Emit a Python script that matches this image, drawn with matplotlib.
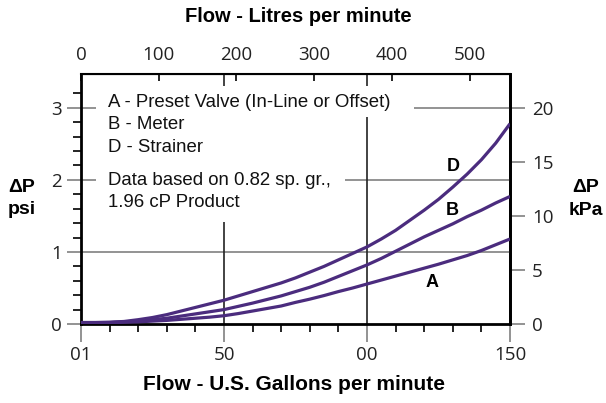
import matplotlib.pyplot as plt
from matplotlib.patches import Rectangle

# flow in US gallons per minute and pressure drop in psi
gpm = [0, 5, 10, 15, 20, 25, 30, 35, 40, 45, 50, 55, 60, 65, 70, 75,
       80, 85, 90, 95, 100, 105, 110, 115, 120, 125, 130, 135, 140, 145, 150]
dp_d = [0.02, 0.02, 0.025, 0.035, 0.06, 0.09, 0.13, 0.18, 0.23, 0.28, 0.33, 0.39, 0.45, 0.51, 0.57, 0.64,
        0.72, 0.80, 0.89, 0.98, 1.07, 1.18, 1.30, 1.44, 1.58, 1.73, 1.90, 2.08, 2.28, 2.51, 2.78]
dp_b = [0.02, 0.02, 0.02, 0.03, 0.04, 0.06, 0.08, 0.11, 0.14, 0.17, 0.20, 0.245, 0.29, 0.34, 0.39, 0.45,
        0.51, 0.58, 0.66, 0.74, 0.82, 0.91, 1.01, 1.11, 1.21, 1.30, 1.39, 1.49, 1.58, 1.68, 1.77]
dp_a = [0.02, 0.02, 0.02, 0.025, 0.03, 0.04, 0.05, 0.065, 0.08, 0.095, 0.115, 0.145, 0.18, 0.215, 0.25, 0.30,
        0.345, 0.395, 0.45, 0.50, 0.555, 0.61, 0.665, 0.72, 0.775, 0.83, 0.89, 0.95, 1.02, 1.10, 1.18]

bottom_ticks = [0, 50, 100, 150]
bottom_labels = ['01', '50', '00', '150']
litre_ticks = [0, 100, 200, 300, 400, 500]
kpa_ticks = [0, 5, 10, 15, 20]
notes = ['A - Preset Valve (In-Line or Offset)', 'B - Meter', 'D - Strainer',
         'Data based on 0.82 sp. gr.,', '1.96 cP Product']

purple = '#4b2c7e'
tick_font = 'Open Sans'
sans = 'Liberation Sans'

fig = plt.figure(figsize=(6.06, 4.03), dpi=100)
ax = fig.add_axes([81 / 606, 1 - 324 / 403, 429 / 606, 250 / 403])
ax.set_xlim(0, 150)
ax.set_ylim(0, 3.47)

# grid lines (hidden behind the note boxes)
for v in [1, 2, 3]:
    ax.axhline(v, color='#808080', lw=1.2, zorder=1)
for v in [50, 100]:
    ax.axvline(v, color='#222222', lw=1.2, zorder=1)
ax.add_patch(Rectangle((5.2, 2.875), 111.2, 0.43, facecolor='white', edgecolor='none', zorder=2))
ax.add_patch(Rectangle((5.2, 1.417), 87.1, 1.46, facecolor='white', edgecolor='none', zorder=2))

ax.plot(gpm, dp_d, color=purple, lw=2.3, zorder=3, solid_capstyle='butt')
ax.plot(gpm, dp_b, color=purple, lw=2.3, zorder=3, solid_capstyle='butt')
ax.plot(gpm, dp_a, color=purple, lw=2.3, zorder=3, solid_capstyle='butt')

ax.text(130.1, 2.19, 'D', fontsize=13, fontweight='bold', family=sans, ha='center', va='center')
ax.text(129.7, 1.57, 'B', fontsize=13, fontweight='bold', family=sans, ha='center', va='center')
ax.text(122.7, 0.57, 'A', fontsize=13, fontweight='bold', family=sans, ha='center', va='center')

note_y = [3.07, 2.764, 2.444, 1.986, 1.681]
for t, y in zip(notes, note_y):
    ax.text(9.44, y, t, fontsize=13.4, family=sans, ha='left', va='center', color='#111111', zorder=4)

for side in ['left', 'bottom', 'right']:
    ax.spines[side].set_linewidth(2)
ax.spines['top'].set_linewidth(1.5)

# left psi axis
ax.set_yticks([0, 1, 2, 3])
ax.set_yticks([x / 10 for x in range(0, 34, 2)], minor=True)
ax.tick_params(axis='y', which='major', length=10, width=1.2, color='#808080', direction='out', pad=4,
               labelsize=13.5, labelcolor='#222222')
ax.tick_params(axis='y', which='minor', length=6, width=1.2, color='black', direction='out')

# bottom gpm axis
ax.set_xticks(bottom_ticks)
ax.set_xticklabels(bottom_labels)
ax.set_xticks(range(0, 151, 10), minor=True)
ax.tick_params(axis='x', which='major', length=13, width=1.2, color='#808080', direction='out', pad=3,
               labelsize=13.5, labelcolor='#222222')
ax.tick_params(axis='x', which='minor', length=6, width=1.2, color='black', direction='out')
for lab in ax.get_xticklabels() + ax.get_yticklabels():
    lab.set_family(tick_font)

# top litres axis
ratio = 3.68
top = ax.secondary_xaxis('top', functions=(lambda x: x * ratio, lambda x: x / ratio))
top.set_xticks(litre_ticks)
top.tick_params(length=5, width=1.2, color='black', direction='in', pad=7, labelsize=13.5, labelcolor='#222222')
for lab in top.get_xticklabels():
    lab.set_family(tick_font)

# right kPa axis
right = ax.secondary_yaxis('right', functions=(lambda p: p * 20 / 3, lambda k: k * 3 / 20))
right.set_yticks(kpa_ticks)
right.tick_params(length=11, width=1.2, color='#808080', direction='out', pad=5, labelsize=13.5,
                  labelcolor='#222222')
right.spines['right'].set_linewidth(2)
for lab in right.get_yticklabels():
    lab.set_family(tick_font)

# axis titles
fig.text(298 / 606, 1 - 16 / 403, 'Flow - Litres per minute', fontsize=14.5, fontweight='bold',
         family=sans, ha='center', va='center')
fig.text(294 / 606, 1 - 385 / 403, 'Flow - U.S. Gallons per minute', fontsize=15, fontweight='bold',
         family=sans, ha='center', va='center')
fig.text(22 / 606, 1 - 187 / 403, 'ΔP', fontsize=14, fontweight='bold', family=sans, ha='center', va='center')
fig.text(22 / 606, 1 - 210 / 403, 'psi', fontsize=14, fontweight='bold', family=sans, ha='center', va='center')
fig.text(586 / 606, 1 - 187 / 403, 'ΔP', fontsize=14, fontweight='bold', family=sans, ha='center', va='center')
fig.text(586 / 606, 1 - 211 / 403, 'kPa', fontsize=14, fontweight='bold', family=sans, ha='center', va='center')

fig.savefig('out.png', dpi=100)
